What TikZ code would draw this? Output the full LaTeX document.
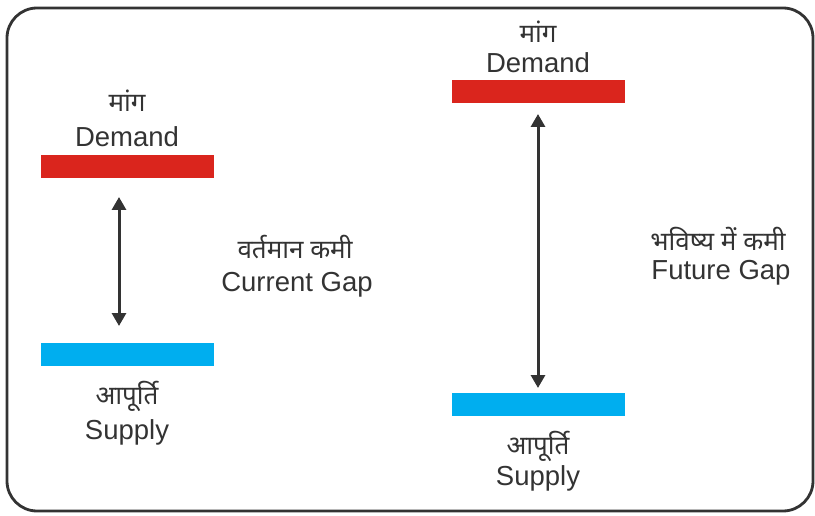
\documentclass[tikz,border=0pt]{standalone}
\usepackage{fontspec}
\setmainfont{Liberation Sans}
\newfontfamily\hindi[Script=Devanagari]{Noto Sans}
\usetikzlibrary{arrows.meta}
\definecolor{barred}{HTML}{DA251D}
\definecolor{barblue}{HTML}{00AEEF}
\definecolor{ink}{HTML}{333333}
\tikzset{
  bar/.style={minimum width=173pt, minimum height=23pt, inner sep=0pt, outer sep=0pt},
  lbl/.style={text=ink, font=\fontsize{27.5}{30}\selectfont, inner sep=0pt},
  hlbl/.style={text=ink, font=\hindi\fontsize{26}{30}\selectfont, inner sep=0pt},
  gaparr/.style={draw=ink, line width=3pt, {Triangle[width=14pt,length=13pt]}-{Triangle[width=14pt,length=13pt]}},
}
\begin{document}
\begin{tikzpicture}[x=1pt,y=-1pt]
\useasboundingbox (0,0) rectangle (815,516);
\draw[ink, line width=2.8pt, rounded corners=30pt] (7,8) rectangle (813,511);
% left
\node[bar, fill=barred] (dl) at (127.5,166.5) {};
\node[bar, fill=barblue] (sl) at (127.5,354.5) {};
\node[hlbl] (dlh) at (127,101) {मांग};
\node[lbl] (dle) at (127,137) {Demand};
\node[hlbl] (slh) at (127,396) {आपूर्ति};
\node[lbl] (sle) at (127,432) {Supply};
\draw[gaparr] ([xshift=-8.5pt,yshift=-19pt]dl.south) -- ([xshift=-8.5pt,yshift=17pt]sl.north);
\node[hlbl] (cgh) at (295,247) {वर्तमान कमी};
\node[lbl] (cge) at (297,285) {Current Gap};
% right
\node[bar, fill=barred] (dr) at (538.5,91.5) {};
\node[bar, fill=barblue] (sr) at (538.5,404.5) {};
\node[hlbl] (drh) at (538,32) {मांग};
\node[lbl] (dre) at (538,63) {Demand};
\node[hlbl] (srh) at (538,446) {आपूर्ति};
\node[lbl] (sre) at (538,478) {Supply};
\draw[gaparr] ([xshift=-0.5pt,yshift=-11pt]dr.south) -- ([xshift=-0.5pt,yshift=5pt]sr.north);
\node[hlbl] (fgh) at (718,239) {भविष्य में कमी};
\node[lbl] (fge) at (721,273) {Future Gap};
\end{tikzpicture}
\end{document}
